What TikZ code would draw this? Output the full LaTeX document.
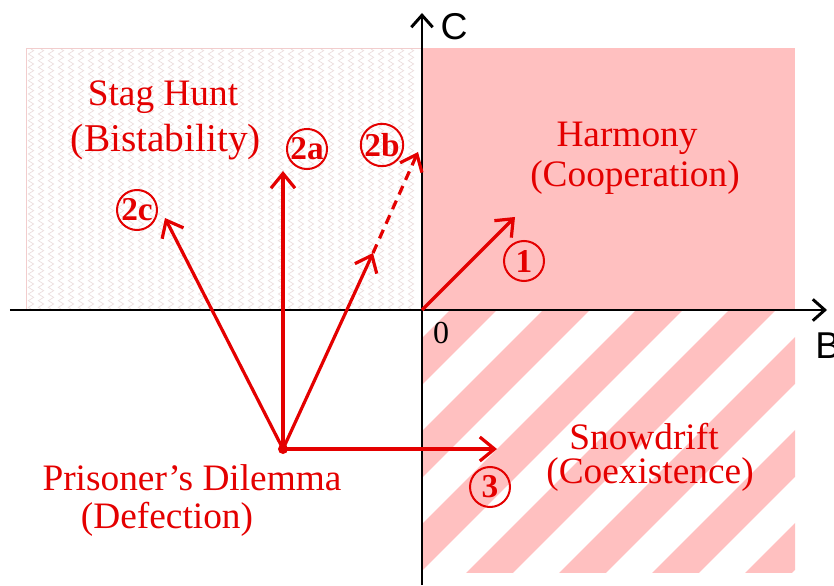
\documentclass[tikz,border=0pt]{standalone}
\usepackage{fontspec}
\setmainfont{Liberation Serif}
\setsansfont{Liberation Sans}
\usepackage{tikz}
\usetikzlibrary{positioning}
\usetikzlibrary{arrows.meta}
\usetikzlibrary{decorations.pathmorphing}

\definecolor{gamered}{RGB}{228,0,0}
\definecolor{harmonypink}{RGB}{255,192,192}
\definecolor{zigpink}{RGB}{236,221,221}
\definecolor{edgepink}{RGB}{242,205,205}

\begin{document}
\begin{tikzpicture}[x=0.75pt, y=0.75pt,
	vec/.style={gamered, line width=2.4pt, -{Straight Barb[length=11pt, width=18pt, line width=2.4pt]}},
	axis/.style={black, line width=2.2pt, -{Straight Barb[length=9pt, width=16pt, line width=2.2pt]}},
	lbl/.style={gamered, anchor=base, font=\fontsize{28}{30}\selectfont},
	num/.style={gamered, circle, draw, line width=1.5pt, inner sep=0pt, minimum size=30pt,
		font=\bfseries\fontsize{25}{25}\selectfont},
	zig/.style={zigpink, line width=0.5pt, decorate,
		decoration={zigzag, amplitude=2pt, segment length=5pt}},
	stripe/.style={harmonypink, line width=24.9pt}
	]

		\useasboundingbox (-422,-275) rectangle (412,310);

		% Regions
		\fill[white] (-396,0) rectangle (0,262);
		\foreach \x in {-391,-381,...,-5}
			\draw[zig] (\x,1) -- (\x,261);
		\draw[edgepink, line width=0.6pt] (-396,0) rectangle (0,262);

		\fill[harmonypink] (0,0) rectangle (373,262);

		\begin{scope}
			\clip (0,0) rectangle (373,-262);
			\foreach \c in {-41.5,51.5,...,640}
				\draw[stripe] (\c-290,-290) -- (\c+20,20);
		\end{scope}

		% Axes
		\coordinate (xmin) at (-412,0);
		\coordinate (xmax) at (405,0);
		\coordinate (ymin) at (0,-275);
		\coordinate (ymax) at (0,297);
		\draw[axis] (xmin) -- (xmax);
		\draw[axis] (ymin) -- (ymax);
		\node[font=\sffamily\fontsize{28}{30}\selectfont] (clab) at (32,283) {C};
		\node[font=\sffamily\fontsize{28}{30}\selectfont, anchor=west, inner sep=0pt] (blab) at (393,-36) {B};
		\node[font=\fontsize{24}{26}\selectfont] (zero) at (19,-23) {0};

		% Arrow end points
		\coordinate (o)   at (0,0);
		\coordinate (pd)  at (-139,-139);
		\coordinate (t1)  at (93,93);
		\coordinate (t2a) at (-139,139);
		\coordinate (m2b) at (-49,57);
		\coordinate (t2b) at (-4,158);
		\coordinate (t2c) at (-257,92);
		\coordinate (t3)  at (75,-139);

		\draw[vec] (pd) -- (t2c);
		\draw[vec] (pd) -- (t2a);
		\draw[vec] (pd) -- (m2b);
		\draw[vec, dash pattern=on 7pt off 5pt] (m2b) -- (t2b);
		\draw[vec] (pd) -- (t3);
		\draw[vec] (o) -- (t1);
		\fill[gamered] (pd) circle (5);

		% Circled numbers
		\node[num] (n1)  at (102,49)   {1};
		\node[num] (n2a) at (-115,161) {2a};
		\node[num] (n2b) at (-40,165)  {2b};
		\node[num] (n2c) at (-285,100) {2c};
		\node[num] (n3)  at (68,-177)  {3};

		% Region labels
		\node[lbl] (sh1) at (-259,204) {Stag Hunt};
		\node[lbl, font=\fontsize{29.5}{30}\selectfont] (sh2) at (-256,158) {(Bistability)};
		\node[lbl] (hm1) at (205,163)  {Harmony};
		\node[lbl] (hm2) at (213,123)  {(Cooperation)};
		\node[lbl] (sd1) at (222,-139) {Snowdrift};
		\node[lbl] (sd2) at (228,-173) {(Coexistence)};
		\node[lbl] (pd1) at (-230,-180) {Prisoner’s Dilemma};
		\node[lbl] (pd2) at (-255,-218) {(Defection)};

	\end{tikzpicture}
\end{document}
